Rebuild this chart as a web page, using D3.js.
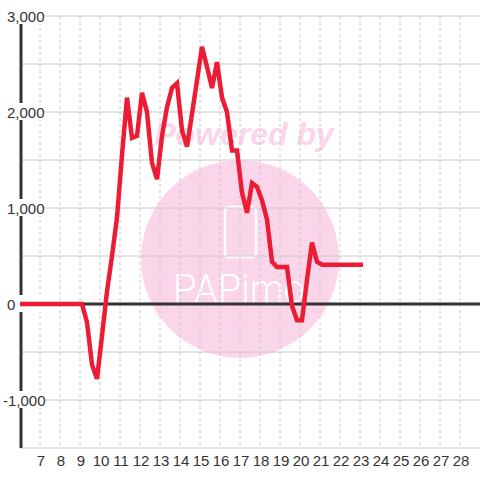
<!DOCTYPE html>
<html>
<head>
<meta charset="utf-8">
<script src="https://cdn.jsdelivr.net/npm/d3@7"></script>
<style>
  body { margin: 0; background: #fff; }
  svg { display: block; font-family: "Liberation Sans", Arial, sans-serif; }
</style>
</head>
<body>
<svg width="480" height="480"></svg>
<script>
// series (x = day, y = value)
const days = [6, 9.1, 9.35, 9.6, 9.85, 10.1, 10.35, 10.6, 10.85, 11.1, 11.35, 11.6, 11.85,
  12.1, 12.35, 12.6, 12.85, 13.1, 13.35, 13.6, 13.85, 14.1, 14.35, 14.6, 14.85, 15.1,
  15.35, 15.6, 15.85, 16.1, 16.35, 16.6, 16.85, 17.1, 17.35, 17.6, 17.85, 18.1, 18.35,
  18.6, 18.85, 19.1, 19.35, 19.6, 19.85, 20.1, 20.35, 20.6, 20.85, 21.1, 23.15];
const values = [0, 0, -190, -630, -780, -330, 130, 500, 900, 1550, 2150, 1730, 1750,
  2200, 2000, 1470, 1300, 1750, 2050, 2250, 2300, 1810, 1640, 1980, 2330, 2680,
  2470, 2250, 2520, 2150, 2000, 1600, 1600, 1160, 950, 1260, 1220, 1080, 880,
  440, 385, 385, 385, -20, -170, -170, 250, 640, 440, 410, 410];

const xTicks = d3.range(7, 29);
const yTicks = [-1000, 0, 1000, 2000, 3000];
const yGrid = d3.range(-1500, 3001, 500);

const svg = d3.select('svg');
const width = +svg.attr('width');
const height = +svg.attr('height');
const margin = { top: 16, right: 0, bottom: 32, left: 20 };

const x = d3.scaleLinear().domain([6, 29]).range([margin.left, width - margin.right]);
const y = d3.scaleLinear().domain([-1500, 3000]).range([height - margin.bottom, margin.top]);

// watermark
const wm = svg.append('g');
wm.append('circle')
  .attr('cx', 240).attr('cy', 259).attr('r', 99)
  .attr('fill', '#fbd5ea');
wm.append('text')
  .attr('x', 244).attr('y', 145)
  .attr('text-anchor', 'middle')
  .attr('font-size', 32).attr('font-weight', 'bold').attr('font-style', 'italic')
  .attr('fill', '#fbd5ea')
  .text('Powered by');
wm.append('rect')
  .attr('x', 225).attr('y', 207).attr('width', 31).attr('height', 50).attr('rx', 4)
  .attr('fill', 'none').attr('stroke', '#fff').attr('stroke-width', 2.5);
wm.append('text')
  .attr('x', 173).attr('y', 303)
  .attr('font-size', 40).attr('font-family', 'Roboto').attr('font-weight', 300)
  .attr('textLength', 132).attr('lengthAdjust', 'spacingAndGlyphs')
  .attr('fill', '#fff')
  .text('PAPimo');

// grid
svg.append('g').selectAll('line').data(xTicks).join('line')
  .attr('x1', d => x(d)).attr('x2', d => x(d))
  .attr('y1', y(3000)).attr('y2', y(-1500))
  .attr('stroke', '#c8c8c8').attr('stroke-dasharray', '3,3');
svg.append('g').selectAll('line').data(yGrid).join('line')
  .attr('x1', x(6)).attr('x2', x(29))
  .attr('y1', d => y(d)).attr('y2', d => y(d))
  .attr('stroke', '#c8c8c8');

// axes
svg.append('line')
  .attr('x1', x(6) + 1).attr('x2', x(6) + 1)
  .attr('y1', y(3000)).attr('y2', y(-1500))
  .attr('stroke', '#333').attr('stroke-width', 3);
svg.append('line')
  .attr('x1', x(6)).attr('x2', x(29))
  .attr('y1', y(0)).attr('y2', y(0))
  .attr('stroke', '#333').attr('stroke-width', 3);

// y labels with white boxes
const yl = svg.append('g').selectAll('g').data(yTicks).join('g');
yl.append('rect')
  .attr('x', 1).attr('y', d => y(d) - 9)
  .attr('width', 43).attr('height', 17)
  .attr('fill', '#fff');
yl.append('text')
  .attr('x', d => d < 0 ? 3 : 7)
  .attr('y', d => y(d) + 5.5)
  .attr('font-size', 15).attr('fill', '#333')
  .text(d => d3.format(',')(d).replace('−', '-'));

// x labels
svg.append('g').selectAll('text').data(xTicks).join('text')
  .attr('x', d => x(d) + 1).attr('y', 466)
  .attr('text-anchor', 'middle')
  .attr('font-size', 15).attr('fill', '#333')
  .text(d => d);

// series
const line = d3.line().x((d, i) => x(days[i])).y(d => y(d));
svg.append('path')
  .attr('d', line(values))
  .attr('fill', 'none')
  .attr('stroke', '#ec1c34')
  .attr('stroke-width', 4.5);
</script>
</body>
</html>
